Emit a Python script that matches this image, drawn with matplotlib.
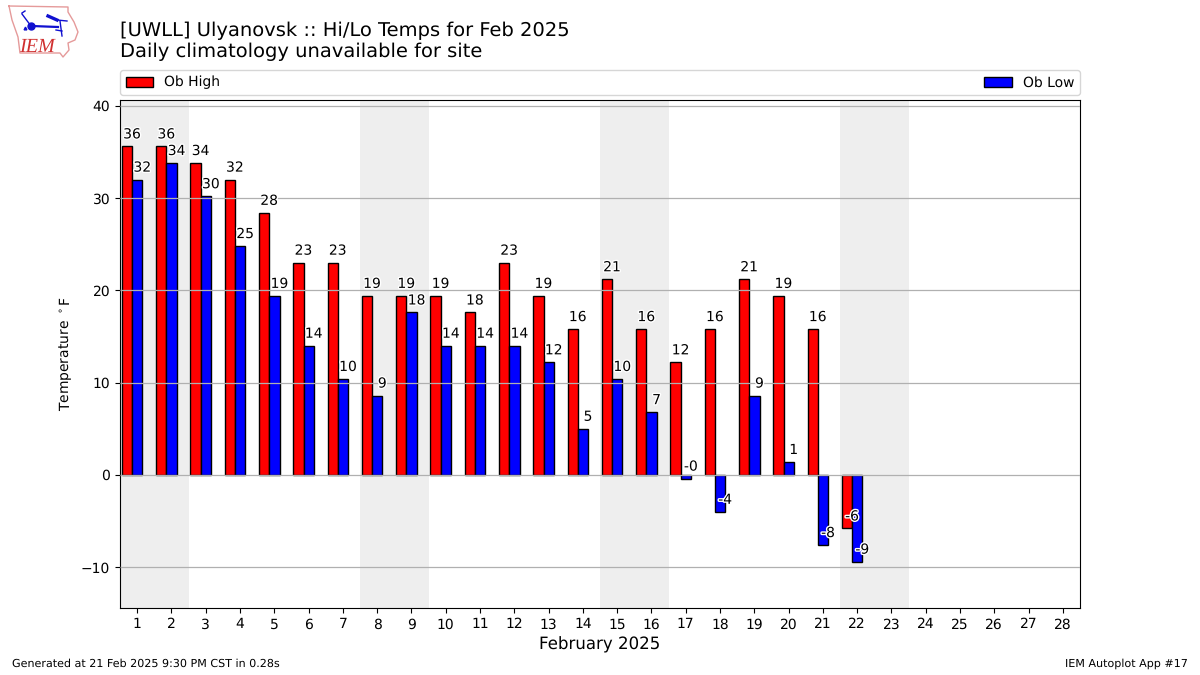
import numpy as np
import matplotlib
matplotlib.use('Agg')
import matplotlib.pyplot as plt
import matplotlib.patheffects as PathEffects

plt.rcParams['text.hinting'] = 'no_hinting'

# Daily values, deg F (Feb 2025, obs stop on the 22nd)
days = np.arange(1, 23)
highs = [35.6, 35.6, 33.8, 32.0, 28.4, 23.0, 23.0, 19.4, 19.4, 19.4, 17.6,
         23.0, 19.4, 15.8, 21.2, 15.8, 12.2, 15.8, 21.2, 19.4, 15.8, -5.8]
lows = [32.0, 33.8, 30.2, 24.8, 19.4, 14.0, 10.4, 8.6, 17.6, 14.0, 14.0,
        14.0, 12.2, 5.0, 10.4, 6.8, -0.4, -4.0, 8.6, 1.4, -7.6, -9.4]
weekends = [(0.5, 2.5), (7.5, 9.5), (14.5, 16.5), (21.5, 23.5)]

fig = plt.figure(figsize=(12, 6.75), dpi=100)
ax = fig.add_axes([0.1, 0.0993, 0.8, 0.7526])

for start, end in weekends:
    ax.axvspan(start, end, color='#eeeeee', lw=0, zorder=1)

width = 0.3
ax.bar(days - 0.445, highs, width, align='edge', color='red', edgecolor='k',
       label='Ob High', zorder=2)
ax.bar(days - 0.145, lows, width, align='edge', color='blue', edgecolor='k',
       label='Ob Low', zorder=2)


def label_bars(xpos, vals):
    for x, v in zip(xpos, vals):
        txt = ax.text(x, v + 0.55, f"{v:.0f}", ha='center', va='bottom',
                      fontsize=10, zorder=5)
        txt.set_path_effects([PathEffects.withStroke(linewidth=2, foreground='white')])


label_bars(days - 0.15, highs)
label_bars(days + 0.15, lows)

ax.set_xlim(0.5, 28.5)
ax.set_ylim(-14.42, 40.63)
ax.set_xticks(np.arange(1, 29))
ax.set_yticks(np.arange(-10, 41, 10))
ax.set_yticklabels(['\u221210', '0', '10', '20', '30', '40'])
# grid runs over the bars in the original
ax.yaxis.grid(True, color='#b0b0b0', lw=0.9)
ax.set_axisbelow(False)
ax.tick_params(axis='both', labelsize=10)
ax.set_xlabel('February 2025', fontsize=12, labelpad=4)
ax.set_ylabel('Temperature $^\\circ$F', fontsize=10)
ax.legend(loc='lower left', bbox_to_anchor=(0, 1.0098, 1, 0.05), ncol=2, mode='expand',
          borderaxespad=0, fontsize=10)

fig.text(0.1, 0.9093, '[UWLL] Ulyanovsk :: Hi/Lo Temps for Feb 2025\nDaily climatology unavailable for site',
         fontsize=14, va='bottom', ha='left')
fig.text(0.01, 0.0125, 'Generated at 21 Feb 2025 9:30 PM CST in 0.28s', fontsize=8)
fig.text(0.99, 0.0125, 'IEM Autoplot App #17', fontsize=8, ha='right')

# rough IEM logo in pixel coords
logo = fig.add_axes([0, 0, 1, 1], facecolor='none', zorder=10)
logo.set_xlim(0, 1200)
logo.set_ylim(675, 0)
logo.axis('off')
logo_x = [9, 68, 68, 74, 78, 75, 68, 69, 63, 60, 20, 18, 12, 9]
logo_y = [6, 7, 12, 22, 32, 40, 43, 50, 57, 53, 53, 37, 20, 6]
logo.plot(logo_x, logo_y, color='#e59a9a', lw=1)
logo.plot([32, 58], [26, 27], color='#1010d0', lw=1.6)
logo.plot([22, 31], [14, 26], color='#1010d0', lw=1)
logo.plot([22, 25], [13, 11], color='#1010d0', lw=1)
logo.plot([31], [26], 'o', color='#1010d0', ms=5)
logo.plot([25], [28], '^', color='#1010d0', ms=2)
logo.plot([48, 57], [16, 20], color='#1010d0', lw=2.4)
logo.plot([57, 67], [20, 21], color='#1010d0', lw=1)
logo.plot([60, 62], [21, 36], color='#1010d0', lw=1)
logo.plot([56, 62], [30, 31], color='#1010d0', lw=1)
logo.text(37, 52, 'IEM', color='#d03030', family='Liberation Serif', style='italic',
          fontsize=14.5, ha='center', va='baseline')

fig.savefig('out.png', dpi=100)
